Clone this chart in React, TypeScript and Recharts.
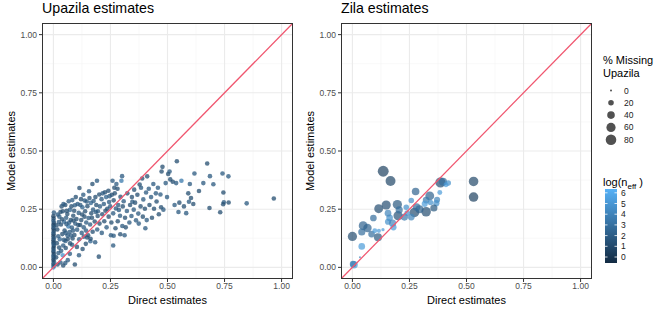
import { ScatterChart, Scatter, XAxis, YAxis, CartesianGrid } from "recharts"

const font = "'Liberation Sans', Arial, Helvetica, sans-serif"

const majorBreaks = [0, 0.25, 0.5, 0.75, 1]
const minorBreaks = [0.125, 0.375, 0.625, 0.875]
const colourBreaks = [0, 1, 2, 3, 4, 5, 6]
const missingBreaks = [0, 20, 40, 60, 80]
const identityLine = [{ x: -0.05, y: -0.05 }, { x: 1.05, y: 1.05 }]

// upazila: [direct, model, log(n_eff)]
const upazila: [number, number, number][] = [
  [0, 0, 4], [0.001, 0.008, 2], [0, 0.016, 1.5], [0.002, 0.025, 2], [0, 0.033, 1], [0.001, 0.042, 1.5],
  [0, 0.05, 2], [0.002, 0.058, 1.5], [0, 0.067, 1], [0.001, 0.075, 2], [0, 0.083, 1.5], [0.002, 0.092, 1],
  [0, 0.1, 2], [0.001, 0.108, 1.5], [0, 0.117, 1], [0.002, 0.125, 2], [0, 0.133, 1.5], [0.001, 0.142, 1],
  [0, 0.15, 2], [0.002, 0.158, 1.5], [0, 0.167, 1], [0.001, 0.175, 2], [0, 0.183, 1.5], [0.002, 0.192, 1],
  [0, 0.2, 2], [0.001, 0.21, 1.5], [0, 0.22, 1], [0.002, 0.236, 2],
  [0.018, 0.012, 1.5], [0.031, 0.021, 2], [0.043, 0.008, 1.5], [0.052, 0.019, 2], [0.012, 0.043, 1.5],
  [0.022, 0.062, 2], [0.041, 0.052, 4.5], [0.034, 0.071, 2], [0.054, 0.083, 1.5], [0.072, 0.058, 2],
  [0.094, 0.012, 1.5], [0.063, 0.031, 2], [0.103, 0.088, 1.5], [0.112, 0.052, 2], [0.128, 0.079, 1.5],
  [0.199, 0.046, 1.5], [0.262, 0.094, 2], [0.162, 0.112, 2.5], [0.148, 0.128, 1.5], [0.133, 0.132, 2],
  [0.082, 0.097, 2], [0.025, 0.085, 1.5], [0.046, 0.118, 2],
  [0.015, 0.104, 1.5], [0.021, 0.134, 2], [0.017, 0.163, 1.5], [0.028, 0.121, 2.5], [0.033, 0.184, 1.5],
  [0.026, 0.218, 2], [0.036, 0.262, 1.5], [0.043, 0.094, 2], [0.039, 0.143, 1.5], [0.047, 0.196, 2.5],
  [0.041, 0.241, 1.5], [0.053, 0.113, 2], [0.049, 0.158, 1.5], [0.056, 0.213, 2], [0.052, 0.268, 1.5],
  [0.062, 0.137, 2], [0.066, 0.176, 3.5], [0.061, 0.229, 1.5], [0.067, 0.284, 2], [0.073, 0.103, 1.5],
  [0.071, 0.152, 2], [0.076, 0.203, 1.5], [0.072, 0.247, 2.5], [0.084, 0.124, 1.5], [0.081, 0.171, 2],
  [0.087, 0.222, 1.5], [0.083, 0.289, 2], [0.092, 0.139, 1.5], [0.096, 0.188, 2], [0.091, 0.243, 1.5],
  [0.104, 0.162, 2], [0.101, 0.208, 1.5], [0.106, 0.272, 2], [0.098, 0.302, 1.5], [0.057, 0.186, 2],
  [0.079, 0.262, 1.5], [0.024, 0.195, 2], [0.031, 0.238, 1.5], [0.044, 0.272, 2], [0.058, 0.243, 1.5],
  [0.069, 0.193, 2], [0.088, 0.201, 1.5], [0.094, 0.267, 2], [0.014, 0.181, 1.5], [0.019, 0.227, 2],
  [0.063, 0.122, 1.5], [0.077, 0.137, 2], [0.109, 0.182, 1.5], [0.054, 0.148, 2], [0.038, 0.207, 1.5],
  [0.086, 0.158, 2],
  [0.113, 0.121, 2], [0.117, 0.182, 1.5], [0.111, 0.234, 2], [0.114, 0.341, 1.5], [0.124, 0.148, 2],
  [0.122, 0.203, 1.5], [0.127, 0.258, 2.5], [0.121, 0.293, 1.5], [0.133, 0.172, 2], [0.136, 0.218, 1.5],
  [0.131, 0.312, 2], [0.142, 0.101, 1.5], [0.144, 0.193, 2], [0.139, 0.241, 1.5], [0.146, 0.283, 2],
  [0.152, 0.138, 1.5], [0.154, 0.212, 2], [0.149, 0.263, 1.5], [0.156, 0.327, 2], [0.163, 0.123, 1.5],
  [0.161, 0.184, 2], [0.166, 0.232, 1.5], [0.164, 0.277, 2.5], [0.172, 0.153, 1.5], [0.174, 0.248, 2],
  [0.171, 0.358, 1.5], [0.183, 0.108, 2], [0.181, 0.197, 1.5], [0.186, 0.238, 2], [0.184, 0.302, 1.5],
  [0.192, 0.163, 2], [0.194, 0.221, 1.5], [0.191, 0.372, 2], [0.202, 0.188, 1.5], [0.204, 0.262, 2],
  [0.201, 0.313, 1.5], [0.118, 0.268, 2], [0.126, 0.227, 1.5], [0.137, 0.287, 2], [0.158, 0.298, 1.5],
  [0.176, 0.285, 2], [0.188, 0.268, 1.5], [0.143, 0.158, 2], [0.169, 0.213, 1.5], [0.195, 0.241, 2],
  [0.212, 0.148, 2], [0.214, 0.228, 1.5], [0.211, 0.293, 2], [0.223, 0.198, 1.5], [0.221, 0.272, 2],
  [0.226, 0.323, 1.5], [0.233, 0.172, 2], [0.236, 0.252, 1.5], [0.231, 0.302, 2.5], [0.242, 0.218, 1.5],
  [0.244, 0.281, 2], [0.241, 0.329, 1.5], [0.252, 0.138, 2], [0.254, 0.193, 1.5], [0.249, 0.262, 2],
  [0.256, 0.312, 1.5], [0.262, 0.232, 2], [0.264, 0.288, 1.5], [0.259, 0.372, 2], [0.272, 0.168, 1.5],
  [0.274, 0.253, 2], [0.269, 0.318, 1.5], [0.276, 0.358, 2], [0.282, 0.198, 1.5], [0.284, 0.268, 2],
  [0.281, 0.338, 1.5], [0.292, 0.222, 2], [0.294, 0.303, 1.5], [0.302, 0.178, 2], [0.304, 0.262, 1.5],
  [0.301, 0.392, 2], [0.293, 0.142, 1.5], [0.264, 0.136, 2], [0.298, 0.372, 3.5], [0.216, 0.318, 2],
  [0.228, 0.243, 1.5], [0.246, 0.306, 2], [0.267, 0.342, 1.5], [0.287, 0.247, 2],
  [0.312, 0.138, 2], [0.314, 0.213, 1.5], [0.308, 0.284, 2], [0.317, 0.172, 1.5], [0.322, 0.242, 2],
  [0.324, 0.318, 1.5], [0.333, 0.193, 2], [0.336, 0.268, 1.5], [0.342, 0.221, 2], [0.344, 0.302, 1.5],
  [0.352, 0.248, 2], [0.354, 0.334, 1.5], [0.362, 0.202, 2], [0.358, 0.278, 1.5], [0.372, 0.231, 2],
  [0.368, 0.312, 1.5], [0.374, 0.188, 2], [0.382, 0.262, 1.5], [0.384, 0.342, 2], [0.392, 0.218, 1.5],
  [0.394, 0.292, 2], [0.389, 0.382, 1.5], [0.403, 0.168, 2], [0.401, 0.252, 1.5], [0.406, 0.322, 2],
  [0.411, 0.391, 1.5], [0.409, 0.203, 2], [0.346, 0.282, 2], [0.378, 0.356, 1.5],
  [0.421, 0.268, 1.5], [0.418, 0.338, 2], [0.432, 0.213, 1.5], [0.428, 0.302, 2], [0.441, 0.252, 1.5],
  [0.438, 0.358, 2], [0.452, 0.283, 1.5], [0.449, 0.318, 2], [0.462, 0.228, 1.5], [0.458, 0.342, 2],
  [0.472, 0.258, 1.5], [0.469, 0.313, 2], [0.474, 0.412, 1.5], [0.482, 0.248, 2], [0.478, 0.432, 1.5],
  [0.492, 0.362, 2], [0.503, 0.401, 1.5], [0.498, 0.302, 2],
  [0.512, 0.378, 1.5], [0.509, 0.412, 2], [0.523, 0.368, 1.5], [0.531, 0.268, 2], [0.541, 0.456, 1.5],
  [0.538, 0.362, 2], [0.552, 0.278, 1.5], [0.548, 0.238, 2], [0.561, 0.372, 3.5], [0.572, 0.262, 1.5],
  [0.582, 0.233, 2], [0.591, 0.318, 1.5], [0.594, 0.282, 2], [0.603, 0.298, 1.5], [0.598, 0.358, 2],
  [0.613, 0.272, 1.5], [0.618, 0.403, 2], [0.638, 0.328, 1.5], [0.657, 0.362, 2], [0.674, 0.446, 1.5],
  [0.686, 0.392, 2], [0.684, 0.255, 1.5], [0.701, 0.357, 2],
  [0.731, 0.237, 1.5], [0.741, 0.403, 2], [0.745, 0.322, 1.5], [0.747, 0.28, 2], [0.744, 0.271, 1.5],
  [0.767, 0.391, 2], [0.768, 0.279, 1.5], [0.847, 0.275, 2], [0.966, 0.296, 1.5],
]

// zila: [direct, model, % missing upazila, log(n_eff)]
const zila: [number, number, number, number][] = [
  [0.135, 0.413, 85, 1], [0.167, 0.371, 70, 1.2], [0.386, 0.365, 75, 1.5], [0.531, 0.369, 65, 1.3],
  [0.531, 0.302, 65, 1], [0.397, 0.368, 45, 3], [0.42, 0.362, 20, 4.5], [0.41, 0.355, 15, 5],
  [0.383, 0.322, 15, 5], [0.339, 0.307, 55, 2.5], [0.277, 0.326, 40, 2.5], [0.258, 0.287, 20, 4.5],
  [0.236, 0.258, 20, 4.5], [0.323, 0.289, 30, 3.5], [0.371, 0.29, 25, 4], [0.368, 0.276, 25, 4.5],
  [0.357, 0.255, 35, 2], [0.323, 0.239, 65, 1.5], [0.272, 0.236, 65, 1.5], [0.294, 0.25, 45, 2.5],
  [0.281, 0.259, 40, 3], [0.197, 0.27, 60, 2], [0.148, 0.268, 60, 1.5], [0.115, 0.252, 55, 1.5],
  [0.2, 0.222, 60, 1.8], [0.205, 0.247, 35, 3], [0.228, 0.216, 35, 3.5], [0.258, 0.216, 30, 4],
  [0.163, 0.213, 30, 4.5], [0.156, 0.196, 25, 4.5], [0.176, 0.19, 35, 4], [0.18, 0.172, 25, 5],
  [0.092, 0.212, 30, 3], [0.047, 0.179, 55, 2.5], [0.066, 0.169, 50, 2.5], [0.041, 0.152, 35, 3],
  [0.084, 0.143, 30, 3], [0.116, 0.157, 10, 5], [0.112, 0.129, 45, 2], [0, 0.133, 60, 1.5],
  [0.041, 0.09, 30, 5], [0.033, 0.043, 0, 4], [0.007, 0.011, 40, 5], [0.003, 0.014, 30, 3.5],
  [0.098, 0.157, 15, 5], [0.134, 0.162, 5, 5], [0.342, 0.279, 20, 4.5], [0.317, 0.273, 25, 5],
  [0.24, 0.233, 20, 4.5], [0.156, 0.233, 30, 4],
]

const upazilaData = upazila.map(([x, y, c]) => ({ x, y, c }))
const zilaData = zila.map(([x, y, m, c]) => ({ x, y, m, c }))

const lowCol = [19, 43, 67]
const highCol = [86, 177, 247]
function shade(c: number) {
  const t = Math.max(0, Math.min(1, c / 6))
  const rgb = lowCol.map((v, i) => Math.round(v + (highCol[i] - v) * t))
  return `rgb(${rgb.join(",")})`
}
// area scale for % missing
function radius(m: number) {
  return Math.sqrt(1 + (m * 27) / 80)
}

const UpazilaDot = (p: any) => (
  <circle cx={p.cx} cy={p.cy} r={2.3} fill={shade(p.payload.c)} fillOpacity={0.75} />
)
const ZilaDot = (p: any) => (
  <circle cx={p.cx} cy={p.cy} r={radius(p.payload.m)} fill={shade(p.payload.c)} fillOpacity={0.7} />
)
const NoDot = () => null

const XTitle = (p: any) => (
  <text x={p.viewBox.x + p.viewBox.width / 2} y={304} textAnchor="middle" fontSize={11} fontFamily={font} fill="#000">
    Direct estimates
  </text>
)
const YTitle = (p: any) => {
  const cy = p.viewBox.y + p.viewBox.height / 2
  return (
    <text x={15} y={cy} transform={`rotate(-90 15 ${cy})`} textAnchor="middle" fontSize={11} fontFamily={font} fill="#000">
      Model estimates
    </text>
  )
}

const tickStyle = { fontSize: 8.5, fill: "#4D4D4D", fontFamily: font }

function Panel({ title, data, dot }: { title: string; data: any[]; dot: any }) {
  return (
    <div style={{ position: "relative", width: 300, height: 312 }}>
      <div style={{ position: "absolute", left: 42, top: 0, fontSize: 14.2, fontFamily: font, color: "#000", whiteSpace: "nowrap" }}>
        {title}
      </div>
      <ScatterChart width={300} height={312} margin={{ top: 23, right: 7, bottom: 0, left: 0 }}>
        <CartesianGrid horizontalValues={minorBreaks} verticalValues={minorBreaks} stroke="#F3F3F3" strokeWidth={0.6} />
        <CartesianGrid horizontalValues={majorBreaks} verticalValues={majorBreaks} stroke="#EBEBEB" strokeWidth={1.1} />
        <XAxis
          type="number"
          dataKey="x"
          domain={[-0.05, 1.05]}
          ticks={majorBreaks}
          allowDataOverflow
          tickFormatter={(v: number) => v.toFixed(2)}
          tick={tickStyle}
          tickSize={3}
          tickMargin={1}
          tickLine={{ stroke: "#333" }}
          axisLine={false}
          height={33}
          label={<XTitle />}
        />
        <YAxis
          type="number"
          dataKey="y"
          domain={[-0.05, 1.05]}
          ticks={majorBreaks}
          allowDataOverflow
          tickFormatter={(v: number) => v.toFixed(2)}
          tick={tickStyle}
          tickSize={3}
          tickMargin={2}
          tickLine={{ stroke: "#333" }}
          axisLine={false}
          width={42}
          label={<YTitle />}
        />
        <Scatter data={data} shape={dot} isAnimationActive={false} />
        <Scatter
          data={identityLine}
          shape={NoDot}
          line={{ stroke: "#F0566F", strokeWidth: 1.25 }}
          isAnimationActive={false}
        />
      </ScatterChart>
      <div style={{ position: "absolute", left: 42, top: 23, width: 251, height: 256, boxSizing: "border-box", border: "1px solid #333", pointerEvents: "none" }} />
    </div>
  )
}

function Legend() {
  const barTop = 189
  const barBottom = 263
  const tickY = (v: number) => 257 - v * 10.7
  return (
    <svg width={64} height={312} style={{ position: "absolute", left: 600, top: 0 }} fontFamily={font}>
      <text x={3} y={64} fontSize={11}>% Missing</text>
      <text x={3} y={77} fontSize={11}>Upazila</text>
      {missingBreaks.map((m, i) => (
        <g key={m}>
          <circle cx={11} cy={90.5 + i * 12.3} r={radius(m)} fill="#333" fillOpacity={0.85} />
          <text x={24} y={93.5 + i * 12.3} fontSize={8.5} fill="#222">{m}</text>
        </g>
      ))}
      <text x={3} y={186} fontSize={11}>
        log(n<tspan fontSize={8} dy={3}>eff</tspan><tspan dy={-3}> )</tspan>
      </text>
      <defs>
        <linearGradient id="neff" x1="0" y1="1" x2="0" y2="0">
          <stop offset="0" stopColor={shade(0)} />
          <stop offset="1" stopColor={shade(6)} />
        </linearGradient>
      </defs>
      <rect x={5} y={barTop} width={12} height={barBottom - barTop} fill="url(#neff)" />
      {colourBreaks.map((v) => (
        <g key={v}>
          <line x1={5} x2={7.5} y1={tickY(v)} y2={tickY(v)} stroke="#fff" strokeWidth={0.8} />
          <line x1={14.5} x2={17} y1={tickY(v)} y2={tickY(v)} stroke="#fff" strokeWidth={0.8} />
          <text x={21} y={tickY(v) + 3} fontSize={8.5} fill="#222">{v}</text>
        </g>
      ))}
    </svg>
  )
}

export default function App() {
  return (
    <div style={{ position: "absolute", left: 0, top: 0, width: 664, height: 312, background: "#fff" }}>
      <div style={{ position: "absolute", left: 0, top: 0 }}>
        <Panel title="Upazila estimates" data={upazilaData} dot={UpazilaDot} />
      </div>
      <div style={{ position: "absolute", left: 299, top: 0 }}>
        <Panel title="Zila estimates" data={zilaData} dot={ZilaDot} />
      </div>
      <Legend />
    </div>
  )
}
